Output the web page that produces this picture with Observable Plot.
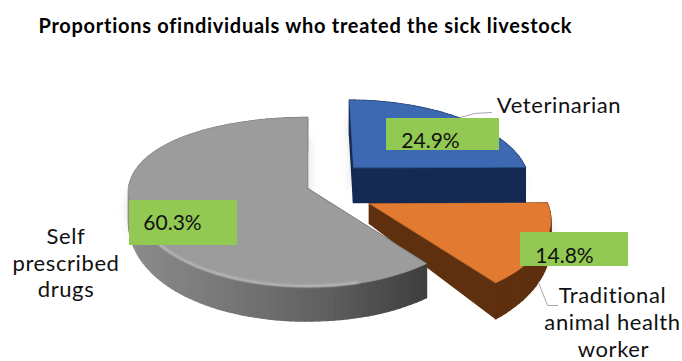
<!DOCTYPE html>
<html>
<head>
<meta charset="utf-8">
<style>
  html, body { margin: 0; padding: 0; background: #fff; }
</style>
<script src="https://cdn.jsdelivr.net/npm/d3@7"></script>
<script src="https://cdn.jsdelivr.net/npm/@observablehq/plot@0.6"></script>
</head>
<body>
<div id="chart"></div>
<script>
// Who treated the sick livestock: share of individuals per provider.
const categories = ["Veterinarian", "Traditional animal health worker", "Self prescribed drugs"];
const shares = [24.9, 14.8, 60.3];

const titleText = "Proportions ofindividuals who treated the sick livestock";

// Category captions, one row per printed line.
const captionLines = ["Veterinarian", "Traditional", "animal health", "worker", "Self", "prescribed", "drugs"];
const captionX = [558.5, 612, 612, 613, 65.5, 65.5, 65.5];
const captionY = [112, 302, 329, 356, 243, 270, 296];

// Value tags: the green boxes and their text.
const tagLeft = [386, 520, 129];
const tagRight = [499, 628, 237];
const tagTop = [118, 232, 200];
const tagBottom = [150, 266, 245];
const tagTextX = [430, 564, 172];
const tagTextY = [147, 262, 229];

// Top-face and wall colours of each wedge.
const topColors = ["#3c69b2", "#e27a31", "#9c9c9c"];
const wallColors = ["#142a52", "#5f300f", "#6a6a6a"];

// Each wedge's tip after the explosion, and its wall height (near the tip, and growth toward the viewer).
const tipX = [353, 369, 307];
const tipY = [167, 203, 188];
const wallBase = [35, 20, 34];
const wallGrowth = [0, 20, 0];

// Tilted disc seen in perspective, tuned per wedge.
const radii = [172, 178, 179];
const squashBack = [80, 84.4, 84.4];
const squashFront = [84.4, 84.4, 80];
const lean = [4, 0, 0];
const eye = 5.3;

const arcs = d3.pie().sort(null).startAngle(0).endAngle(2 * Math.PI)(shares);

function project(i, angle, t = 1) {
  const X = t * Math.sin(angle);
  const Y = -t * Math.cos(angle);
  const s = eye / (eye - Y);
  // The grey wedge has its own, gentler widening toward the viewer.
  const sx = i === 2 ? (Y > 0 ? 1 + 0.16 * Y * Y : 1 + 0.06 * Y) : s;
  const squash = Y < 0 ? squashBack[i] : squashFront[i];
  return {
    x: tipX[i] + radii[i] * X * sx + lean[i] * Y,
    y: tipY[i] + squash * Y * s,
    depth: wallBase[i] + wallGrowth[i] * Y
  };
}

function outline(i, from = arcs[i].startAngle, to = arcs[i].endAngle) {
  const n = Math.max(2, Math.ceil((to - from) / 0.035));
  return d3.range(n + 1).map((k) => project(i, from + (to - from) * k / n));
}

const greyWall = d3.scaleLinear()
  .domain([130, 230, 330, 425])
  .range(["#8c8c8c", "#767676", "#5e5e5e", "#3e3e3e"])
  .interpolate(d3.interpolateRgb);

function wallColor(i, x) {
  return i === 2 ? greyWall(x) : wallColors[i];
}

// Walls are narrow quads along the outline, so the grey wedge can shade across its rim.
const wallRows = [];
function addWalls(i) {
  const pts = [project(i, 0, 0), ...outline(i)];
  pts.forEach((a, k) => {
    const b = pts[(k + 1) % pts.length];
    const id = `${i}-${k}`;
    const color = wallColor(i, (a.x + b.x) / 2);
    wallRows.push(
      {i, id, color, x: a.x, y: a.y},
      {i, id, color, x: b.x, y: b.y},
      {i, id, color, x: b.x, y: b.y + b.depth},
      {i, id, color, x: a.x, y: a.y + a.depth}
    );
  });
}
arcs.forEach((_, i) => addWalls(i));

const topRows = arcs.flatMap((_, i) =>
  [project(i, 0, 0), ...outline(i)].map((p) => ({i, x: p.x, y: p.y, color: topColors[i]})));

const shadowRows = arcs.flatMap((_, i) =>
  [project(i, 0, 0), ...outline(i)].map((p) => ({i, x: p.x, y: p.y + 20})));

const rimRows = outline(2, arcs[2].startAngle + 0.4, arcs[2].startAngle + 1.8).map((p) => ({x: p.x, y: p.y - 1}));

const wedge = (i) => (d) => d.i === i;
const soft = "blur(0.6px)";

// Wedges are painted back to front: orange, then grey, then blue.
const wedgeMarks = [1, 2, 0].flatMap((i) => [
  Plot.line(wallRows.filter(wedge(i)), {
    x: "x", y: "y", z: "id", fill: "color", stroke: "color", strokeWidth: 1.4,
    curve: "linear-closed", imageFilter: soft
  }),
  Plot.line(topRows.filter(wedge(i)), {
    x: "x", y: "y", z: "i", fill: "color", stroke: "color", strokeWidth: 0.6,
    curve: "linear-closed", imageFilter: soft
  }),
  ...(i === 2 ? [Plot.line(rimRows, {
    x: "x", y: "y", stroke: "#c6c6c6", strokeWidth: 1.6, imageFilter: "blur(0.8px)"
  })] : [])
]);

const chart = Plot.plot({
  width: 682,
  height: 361,
  margin: 0,
  style: {background: "#fff", overflow: "hidden"},
  x: {domain: [0, 682], range: [0, 682], axis: null},
  y: {domain: [0, 361], range: [0, 361], axis: null},
  marks: [
    Plot.line(shadowRows, {
      x: "x", y: "y", z: "i", fill: "#000", fillOpacity: 0.16, curve: "linear-closed", imageFilter: "blur(6px)"
    }),
    ...wedgeMarks,
    // Leader lines
    Plot.line([{x: 460, y: 117}, {x: 474, y: 113}, {x: 491, y: 112}], {x: "x", y: "y", stroke: "#a6a6a6", strokeWidth: 1}),
    Plot.line([{x: 538, y: 282}, {x: 547, y: 305}, {x: 557, y: 305}], {x: "x", y: "y", stroke: "#a6a6a6", strokeWidth: 1}),
    // Value tags
    Plot.rect(shares, {
      x1: (_, i) => tagLeft[i], x2: (_, i) => tagRight[i],
      y1: (_, i) => tagTop[i], y2: (_, i) => tagBottom[i],
      fill: "#92c953"
    }),
    Plot.text(shares, {
      x: (_, i) => tagTextX[i], y: (_, i) => tagTextY[i],
      text: (d) => `${d}%`,
      fontFamily: "Lato", fontSize: 21, fill: "#111", lineAnchor: "bottom", textAnchor: "middle"
    }),
    // Category captions
    Plot.text(captionLines, {
      x: (_, i) => captionX[i], y: (_, i) => captionY[i],
      text: (d) => d,
      fontFamily: "Lato", fontSize: 22, fill: "#111", lineAnchor: "bottom", textAnchor: "middle"
    }),
    // Heading
    Plot.text([titleText], {
      x: () => 38, y: () => 32,
      text: (d) => d,
      fontFamily: "Lato", fontSize: 20, fontWeight: 700, fill: "#000", lineAnchor: "bottom", textAnchor: "start"
    })
  ]
});

// Open up the tracking of the heading and captions.
d3.select(chart).selectAll("text").each(function () {
  const content = this.textContent;
  if (content === titleText) this.setAttribute("letter-spacing", "0.72");
  else if (captionLines.includes(content)) this.setAttribute("letter-spacing", "0.6");
});

document.getElementById("chart").append(chart);
</script>
</body>
</html>
